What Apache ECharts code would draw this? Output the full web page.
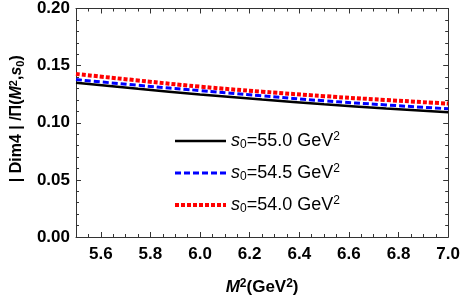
<!DOCTYPE html>
<html>
<head>
<meta charset="utf-8">
<script src="https://cdn.jsdelivr.net/npm/echarts@6/dist/echarts.min.js"></script>
<style>html,body{margin:0;padding:0;background:#fff}#c{width:463px;height:301px}</style>
</head>
<body>
<div id="c"></div>
<script>
var mSq = [5.5, 5.75, 6.0, 6.25, 6.5, 6.75, 7.0];
var s55 = [0.1350, 0.1297, 0.1248, 0.1203, 0.1162, 0.1125, 0.1091];
var s545 = [0.1378, 0.1328, 0.1282, 0.1236, 0.1192, 0.1156, 0.1122];
var s54 = [0.1427, 0.1370, 0.1316, 0.1272, 0.1233, 0.1199, 0.1168];
var xMajor = [5.6, 5.8, 6.0, 6.2, 6.4, 6.6, 6.8, 7.0];
var xMinor = [5.55, 5.65, 5.7, 5.75, 5.85, 5.9, 5.95, 6.05, 6.1, 6.15, 6.25, 6.3, 6.35, 6.45, 6.5, 6.55, 6.65, 6.7, 6.75, 6.85, 6.9, 6.95];
var names = ['s55', 's545', 's54'];
var legendLabels = {
  s55: '{i|s}{sub|0}=55.0 GeV{sup|2}',
  s545: '{i|s}{sub|0}=54.5 GeV{sup|2}',
  s54: '{i|s}{sub|0}=54.0 GeV{sup|2}'
};
function pairs(xs, ys){ return xs.map(function(x,i){return [x, ys[i]];}); }

var FF = 'Liberation Sans, Arial, sans-serif';
var AX = '#333';
var chart = echarts.init(document.getElementById('c'), null, {renderer:'canvas'});
var baseX = {type:'value', min:5.5, max:7.0, splitLine:{show:false}};
chart.setOption({
  animation:false,
  backgroundColor:'#fff',
  grid:{left:69.5, right:12, top:7, bottom:60, containLabel:false},
  legend:{
    orient:'vertical', left:173, top:131, padding:0, itemWidth:51, itemHeight:14, itemGap:12,
    data:names,
    itemStyle:{opacity:0},
    lineStyle:{width:'inherit'},
    formatter:function(n){return legendLabels[n];},
    textStyle:{fontFamily:FF, fontSize:18, color:'#000',
      rich:{
        i:{fontStyle:'italic', fontSize:18, fontFamily:FF},
        sub:{fontSize:12, verticalAlign:'bottom', padding:[6,0,0,0], fontFamily:FF},
        sup:{fontSize:12, verticalAlign:'top', padding:[0,0,8,0], fontFamily:FF}
      }}
  },
  xAxis:[
    Object.assign({}, baseX, {
      position:'bottom',
      axisLine:{show:true, lineStyle:{color:AX, width:1}},
      axisTick:{show:true, inside:true, length:5, customValues:xMajor, lineStyle:{color:AX}},
      axisLabel:{show:true, customValues:xMajor, formatter:function(v){return v.toFixed(1);}, fontFamily:FF, fontWeight:'bold', fontSize:17, color:'#000', margin:9},
      name:'{mi|M}{sup|2}(GeV{sup|2})', nameLocation:'middle', nameGap:41,
      nameTextStyle:{fontFamily:FF, fontWeight:'bold', fontSize:17, color:'#000',
        rich:{mi:{fontStyle:'italic', fontWeight:'bold', fontSize:17, fontFamily:FF},
              sup:{fontSize:12, fontWeight:'bold', verticalAlign:'top', padding:[0,0,7,0], fontFamily:FF}}}
    }),
    Object.assign({}, baseX, {
      position:'bottom', axisLine:{show:false},
      axisTick:{show:true, inside:true, length:3, customValues:xMinor, lineStyle:{color:AX}},
      axisLabel:{show:false}
    }),
    Object.assign({}, baseX, {
      position:'top',
      axisLine:{show:true, lineStyle:{color:AX, width:1}},
      axisTick:{show:true, inside:true, length:5, customValues:xMajor, lineStyle:{color:AX}},
      axisLabel:{show:false}
    }),
    Object.assign({}, baseX, {
      position:'top', axisLine:{show:false},
      axisTick:{show:true, inside:true, length:3, customValues:xMinor, lineStyle:{color:AX}},
      axisLabel:{show:false}
    })
  ],
  yAxis:[
    {type:'value', min:0, max:0.2, interval:0.05, position:'left',
     axisLine:{show:true, lineStyle:{color:AX, width:1}},
     axisTick:{show:true, inside:true, length:5, lineStyle:{color:AX}},
     minorTick:{show:true, splitNumber:5, length:3, lineStyle:{color:AX}},
     splitLine:{show:false},
     axisLabel:{formatter:function(v){return v.toFixed(2);}, fontFamily:FF, fontWeight:'bold', fontSize:17, color:'#000', margin:6},
     name:'| Dim4 | /\u03a0({mi|M}{sup|2},{mi|s}{sub|0})', nameLocation:'middle', nameGap:48, nameRotate:90,
     nameTextStyle:{fontFamily:FF, fontWeight:'bold', fontSize:16, color:'#000', padding:[0,0,0,8],
       rich:{mi:{fontStyle:'italic', fontWeight:'bold', fontSize:16, fontFamily:FF},
             sup:{fontSize:11, fontWeight:'bold', verticalAlign:'top', padding:[0,0,7,0], fontFamily:FF},
             sub:{fontSize:11, fontWeight:'bold', verticalAlign:'bottom', padding:[5,0,0,0], fontFamily:FF}}}
    },
    {type:'value', min:0, max:0.2, interval:0.05, position:'right',
     axisLine:{show:true, lineStyle:{color:AX, width:1}},
     axisTick:{show:true, inside:true, length:5, lineStyle:{color:AX}},
     minorTick:{show:true, splitNumber:5, length:3, lineStyle:{color:AX}},
     splitLine:{show:false}, axisLabel:{show:false}
    }
  ],
  series:[
    {name:'s55', type:'line', smooth:true, symbol:'none', xAxisIndex:0, yAxisIndex:0,
     data:pairs(mSq, s55), lineStyle:{color:'#000', width:2.5, type:'solid'}, itemStyle:{color:'#000'}},
    {name:'s545', type:'line', smooth:true, symbol:'none', xAxisIndex:0, yAxisIndex:0,
     data:pairs(mSq, s545), lineStyle:{color:'#0000ff', width:3, type:[6,3]}, itemStyle:{color:'#0000ff'}},
    {name:'s54', type:'line', smooth:true, symbol:'none', xAxisIndex:0, yAxisIndex:0,
     data:pairs(mSq, s54), lineStyle:{color:'#ff0000', width:4, type:[4,2]}, itemStyle:{color:'#ff0000'}}
  ]
});
</script>
</body>
</html>
